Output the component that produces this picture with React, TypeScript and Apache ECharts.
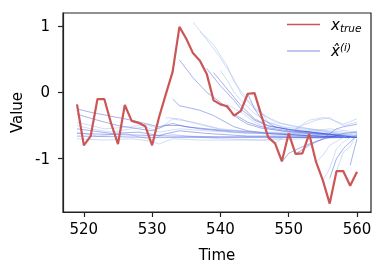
import React, { useEffect, useRef } from "react";
import * as echarts from "echarts";

const times = [519,520,521,522,523,524,525,526,527,528,529,530,531,532,533,534,535,536,537,538,539,540,541,542,543,544,545,546,547,548,549,550,551,552,553,554,555,556,557,558,559,560];
const trueValues = [-0.18,-0.80,-0.66,-0.10,-0.10,-0.47,-0.78,-0.19,-0.43,-0.46,-0.51,-0.80,-0.38,-0.03,0.31,0.99,0.81,0.59,0.48,0.28,-0.12,-0.18,-0.21,-0.35,-0.28,-0.02,-0.01,-0.35,-0.68,-0.77,-1.04,-0.62,-0.93,-0.92,-0.63,-1.05,-1.33,-1.68,-1.19,-1.19,-1.41,-1.20];

// forecasts starting at the left edge
const forecastsEarly: number[][][] = [
  [[519,-0.25],[521,-0.30],[523,-0.34],[525,-0.38],[527,-0.42],[529,-0.47],[531,-0.52],[533,-0.47],[535,-0.52],[540,-0.57],[545,-0.60],[550,-0.63],[555,-0.66],[560,-0.68]],
  [[519,-0.33],[522,-0.42],[525,-0.50],[528,-0.55],[530,-0.58],[532,-0.50],[534,-0.50],[537,-0.55],[542,-0.60],[548,-0.63],[554,-0.66],[560,-0.68]],
  [[519,-0.45],[523,-0.55],[527,-0.52],[529,-0.48],[531,-0.55],[533,-0.40],[536,-0.45],[540,-0.55],[545,-0.60],[552,-0.60],[556,-0.55],[560,-0.60]],
  [[519,-0.55],[524,-0.62],[528,-0.60],[531,-0.65],[534,-0.58],[538,-0.62],[544,-0.66],[550,-0.66],[560,-0.68]],
  [[519,-0.60],[522,-0.66],[526,-0.62],[530,-0.72],[532,-0.62],[535,-0.66],[540,-0.70],[546,-0.72],[550,-0.68],[560,-0.68]],
  [[519,-0.66],[525,-0.67],[530,-0.68],[535,-0.68],[540,-0.68],[545,-0.68],[550,-0.68],[560,-0.68]],
  [[519,-0.70],[523,-0.72],[527,-0.70],[530,-0.74],[531,-0.78],[533,-0.70],[537,-0.72],[542,-0.72],[547,-0.72],[552,-0.70],[560,-0.68]],
  [[519,-0.62],[526,-0.64],[533,-0.66],[540,-0.67],[547,-0.67],[553,-0.68],[560,-0.68]],
  [[519,-0.50],[521,-0.55],[524,-0.60],[527,-0.55],[529,-0.52],[531,-0.60],[534,-0.55],[538,-0.58],[544,-0.62],[550,-0.62],[555,-0.62],[560,-0.65]],
];
const shadeEarly = [1,1,0,1,0,1,0,1,0];

// forecasts starting mid-window
const forecastsMid: number[][][] = [
  [[533,-0.10],[534,-0.20],[537,-0.27],[539,-0.35],[542,-0.52],[544,-0.58],[547,-0.62],[552,-0.65],[560,-0.68]],
  [[534,0.49],[536,0.22],[538,0.00],[540,-0.15],[542,-0.33],[544,-0.45],[546,-0.52],[550,-0.58],[555,-0.63],[560,-0.68]],
  [[536,1.06],[538,0.80],[540,0.52],[542,0.20],[543,-0.02],[545,-0.25],[547,-0.38],[549,-0.47],[552,-0.53],[556,-0.60],[560,-0.68]],
  [[537,0.92],[539,0.72],[541,0.40],[542,0.16],[544,-0.12],[546,-0.32],[548,-0.45],[551,-0.52],[555,-0.58],[560,-0.65]],
  [[538,0.36],[540,0.10],[542,-0.12],[543,-0.25],[545,-0.42],[547,-0.51],[550,-0.56],[555,-0.62],[560,-0.68]],
  [[540,0.33],[541,0.18],[542,0.00],[543,-0.12],[545,-0.32],[547,-0.45],[550,-0.55],[555,-0.60],[560,-0.66]],
  [[539,0.30],[541,0.05],[543,-0.20],[545,-0.40],[547,-0.50],[550,-0.56],[560,-0.68]],
  [[541,-0.18],[543,-0.30],[545,-0.45],[547,-0.55],[550,-0.60],[555,-0.64],[560,-0.68]],
  [[544,-0.02],[545,-0.25],[546,-0.40],[548,-0.52],[551,-0.58],[556,-0.63],[560,-0.68]],
  [[545,-0.05],[546,-0.30],[547,-0.45],[549,-0.52],[552,-0.55],[556,-0.58],[560,-0.62]],
  [[532,-0.38],[534,-0.40],[536,-0.46],[540,-0.56],[545,-0.60],[550,-0.62],[560,-0.66]],
  [[542,-0.35],[543,-0.42],[544,-0.48],[546,-0.54],[549,-0.58],[553,-0.62],[557,-0.65],[560,-0.68]],
];
const shadeMid = [1,1,0,0,1,0,1,0,1,0,0,1];

// forecasts starting near the right edge
const forecastsLate: number[][][] = [
  [[549,-1.05],[550,-0.92],[552,-0.82],[554,-0.74],[556,-0.68],[558,-0.62],[560,-0.60]],
  [[548,-0.77],[550,-0.62],[552,-0.50],[554,-0.42],[556,-0.38],[557,-0.45],[558,-0.50],[560,-0.45]],
  [[550,-0.62],[551,-0.55],[553,-0.42],[555,-0.38],[556,-0.40],[558,-0.48],[560,-0.40]],
  [[551,-0.93],[553,-0.80],[555,-0.70],[557,-0.55],[558,-0.52],[560,-0.48]],
  [[555,-1.33],[556,-1.15],[557,-0.85],[558,-0.75],[560,-0.62]],
  [[556,-1.30],[557,-1.00],[558,-0.85],[560,-0.65]],
  [[559,-1.10],[560,-0.70]],
  [[557,-1.19],[558,-0.90],[559,-0.82],[560,-0.62]],
  [[554,-1.05],[555,-0.95],[556,-0.80],[558,-0.68],[560,-0.58]],
];
const shadeLate = [1,0,0,1,0,1,1,0,0];

const xTicks = [520, 530, 540, 550, 560];
const yTicks = [-1, 0, 1];

const DARK = "rgba(60,80,215,0.6)";
const LIGHT = "rgba(150,180,240,0.6)";
const RED = "#cc5555";

export default function App() {
  const ref = useRef<HTMLDivElement>(null);
  useEffect(() => {
    if (!ref.current) return;
    const chart = echarts.init(ref.current, null, { renderer: "svg" });
    const font = "DejaVu Sans";
    const blue: any[] = [];
    const add = (paths: number[][][], shades: number[]) => {
      paths.forEach((p, i) => {
        blue.push({
          name: "xhat",
          type: "line",
          data: p,
          symbol: "none",
          z: 2,
          lineStyle: { width: 0.75, color: shades[i] ? DARK : LIGHT },
          itemStyle: { color: shades[i] ? DARK : LIGHT },
        });
      });
    };
    add(forecastsEarly, shadeEarly);
    add(forecastsMid, shadeMid);
    add(forecastsLate, shadeLate);
    chart.setOption({
      animation: false,
      grid: {
        left: 63, right: 14, top: 13, bottom: 64,
        show: true, borderColor: "#222", borderWidth: 1.2,
      },
      legend: {
        orient: "vertical",
        left: 282,
        top: 12,
        itemWidth: 33,
        itemHeight: 1.5,
        itemGap: 8,
        icon: "rect",
        data: [
          { name: "xtrue", itemStyle: { color: RED } },
          { name: "xhat", itemStyle: { color: "rgba(120,125,220,0.6)" } },
        ],
        formatter: (n: string) => (n === "xtrue" ? "{a|x}{b|true}" : "{a|x̂}{c|(i)}"),
        textStyle: {
          rich: {
            a: { fontFamily: font, fontStyle: "italic", fontSize: 15, color: "#000", padding: [0, 0, 0, 6] },
            b: { fontFamily: font, fontStyle: "italic", fontSize: 10.5, color: "#000", padding: [7, 0, 0, 0] },
            c: { fontFamily: font, fontStyle: "italic", fontSize: 10.5, color: "#000", padding: [0, 0, 8, 0] },
          },
        },
      },
      xAxis: {
        type: "value",
        min: 516.95,
        max: 562.05,
        name: "Time",
        nameLocation: "middle",
        nameGap: 35,
        nameTextStyle: { fontFamily: font, fontSize: 15, color: "#000" },
        axisLine: { show: true, onZero: false, lineStyle: { color: "#222", width: 1.2 } },
        axisTick: { show: true, length: 5, lineStyle: { color: "#222", width: 1.2 }, customValues: xTicks },
        axisLabel: { fontFamily: font, fontSize: 15, color: "#000", margin: 9, customValues: xTicks },
        splitLine: { show: false },
      },
      yAxis: {
        type: "value",
        min: -1.807,
        max: 1.2,
        name: "Value",
        nameLocation: "middle",
        nameGap: 35,
        nameRotate: 90,
        nameTextStyle: { fontFamily: font, fontSize: 15, color: "#000" },
        axisLine: { show: true, onZero: false, lineStyle: { color: "#222", width: 1.2 } },
        axisTick: { show: true, length: 5, lineStyle: { color: "#222", width: 1.2 }, customValues: yTicks },
        axisLabel: { fontFamily: font, fontSize: 15, color: "#000", margin: 13, customValues: yTicks },
        splitLine: { show: false },
      },
      series: [
        ...blue,
        {
          name: "xtrue",
          type: "line",
          data: times.map((t, i) => [t, trueValues[i]]),
          symbol: "none",
          z: 5,
          lineStyle: { width: 2.2, color: RED },
          itemStyle: { color: RED },
        },
      ],
    });
    return () => chart.dispose();
  }, []);
  return <div ref={ref} style={{ position: "fixed", left: 0, top: 0, width: 385, height: 276 }} />;
}
